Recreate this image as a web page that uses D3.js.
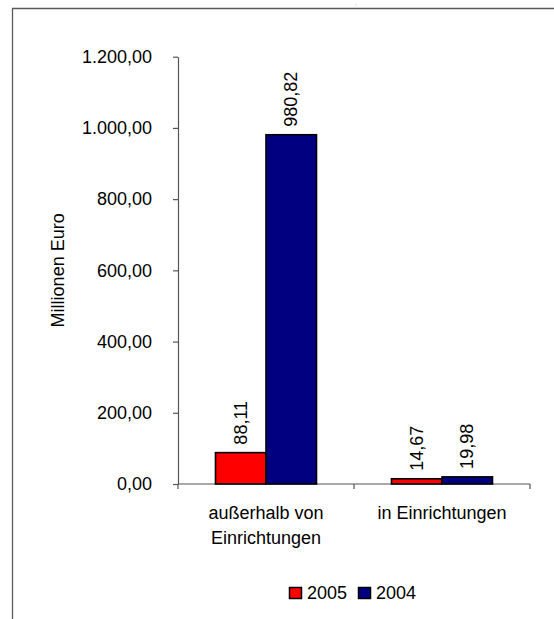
<!DOCTYPE html>
<html>
<head>
<meta charset="utf-8">
<script src="https://cdn.jsdelivr.net/npm/d3@7"></script>
<style>
  html, body { margin: 0; padding: 0; background: #fff; }
  svg { display: block; font-family: "Liberation Sans", Arial, sans-serif; }
</style>
</head>
<body>
<svg id="chart" width="554" height="619"></svg>
<script>
// Ausgaben in Millionen Euro nach Art der Leistung
const categories = [["außerhalb von", "Einrichtungen"], ["in Einrichtungen"]];
const seriesNames = ["2005", "2004"];
const seriesColors = ["#FF0000", "#000080"];
const values2005 = [88.11, 14.67];
const values2004 = [980.82, 19.98];
const yTicks = [0, 200, 400, 600, 800, 1000, 1200];
const yTitle = "Millionen Euro";

const series = [values2005, values2004];
const fmt = v => v.toLocaleString("de-DE", { minimumFractionDigits: 2, maximumFractionDigits: 2 });

const svg = d3.select("#chart");
const fontSize = 18;

// Outer frame (top and left edges visible)
svg.append("path")
  .attr("d", "M12.5,619 L12.5,8.5 L554,8.5")
  .attr("fill", "none").attr("stroke", "#5a5a5a").attr("stroke-width", 1.3);
svg.append("text").attr("x", 355).attr("y", 5).attr("font-size", 6).attr("fill", "#888").text(",");

const plot = { left: 178, right: 530, top: 56.7, bottom: 484 };

const y = d3.scaleLinear().domain([0, 1200]).range([plot.bottom, plot.top]);
const x0 = d3.scaleBand().domain(d3.range(categories.length))
  .range([plot.left, plot.right]).paddingInner(0.426).paddingOuter(0.213);
const x1 = d3.scaleBand().domain(d3.range(series.length)).range([0, x0.bandwidth()]);

// Y axis
const yAxis = d3.axisLeft(y).tickValues(yTicks).tickFormat(fmt).tickSize(5).tickSizeOuter(0);
const gy = svg.append("g").attr("transform", `translate(${plot.left},0)`).call(yAxis);
gy.select(".domain").attr("stroke", "#555").attr("stroke-width", 1.2);
gy.selectAll(".tick line").attr("stroke", "#555").attr("stroke-width", 1.2);
gy.selectAll(".tick text").attr("x", -26).attr("font-size", fontSize).attr("fill", "#000")
  .attr("font-family", "Liberation Sans, Arial, sans-serif");

// X axis with ticks between categories
const xEdges = [plot.left, ...d3.range(1, categories.length).map(i => (x0(i - 1) + x0.bandwidth() + x0(i)) / 2), plot.right];
const gx = svg.append("g");
gx.append("line").attr("x1", plot.left).attr("x2", plot.right)
  .attr("y1", y(0)).attr("y2", y(0)).attr("stroke", "#555").attr("stroke-width", 1.2);
gx.selectAll("line.t").data(xEdges).join("line").attr("class", "t")
  .attr("x1", d => d).attr("x2", d => d).attr("y1", y(0)).attr("y2", y(0) + 5)
  .attr("stroke", "#555").attr("stroke-width", 1.2);

// Bars
categories.forEach((cat, ci) => {
  series.forEach((vals, si) => {
    const bx = x0(ci) + x1(si);
    const v = vals[ci];
    svg.append("rect")
      .attr("x", bx).attr("y", y(v))
      .attr("width", x1.bandwidth()).attr("height", y(0) - y(v))
      .attr("fill", seriesColors[si]).attr("stroke", "#000").attr("stroke-width", 1.6);
    // Value label, rotated
    const cx = bx + x1.bandwidth() / 2;
    const ty = y(v) - 8;
    svg.append("text")
      .attr("transform", `translate(${cx},${ty}) rotate(-90)`)
      .attr("dominant-baseline", "central")
      .attr("font-size", fontSize).attr("fill", "#000")
      .text(fmt(v));
  });
  // Category label
  const t = svg.append("text").attr("text-anchor", "middle").attr("font-size", fontSize)
    .attr("x", x0(ci) + x0.bandwidth() / 2).attr("y", 519);
  cat.forEach((line, li) => t.append("tspan").attr("x", x0(ci) + x0.bandwidth() / 2)
    .attr("dy", li === 0 ? 0 : 25).text(line));
});

// Y axis title
svg.append("text")
  .attr("transform", `translate(64,${(plot.top + plot.bottom) / 2}) rotate(-90)`)
  .attr("text-anchor", "middle").attr("font-size", fontSize).text(yTitle);

// Legend
const legend = svg.append("g");
const legendX = [289, 358];
seriesNames.forEach((name, i) => {
  legend.append("rect").attr("x", legendX[i] + 0.5).attr("y", 587.5).attr("width", 12).attr("height", 11)
    .attr("fill", seriesColors[i]).attr("stroke", "#000").attr("stroke-width", 1.5);
  legend.append("text").attr("x", legendX[i] + 18).attr("y", 599).attr("font-size", fontSize).text(name);
});
</script>
</body>
</html>
